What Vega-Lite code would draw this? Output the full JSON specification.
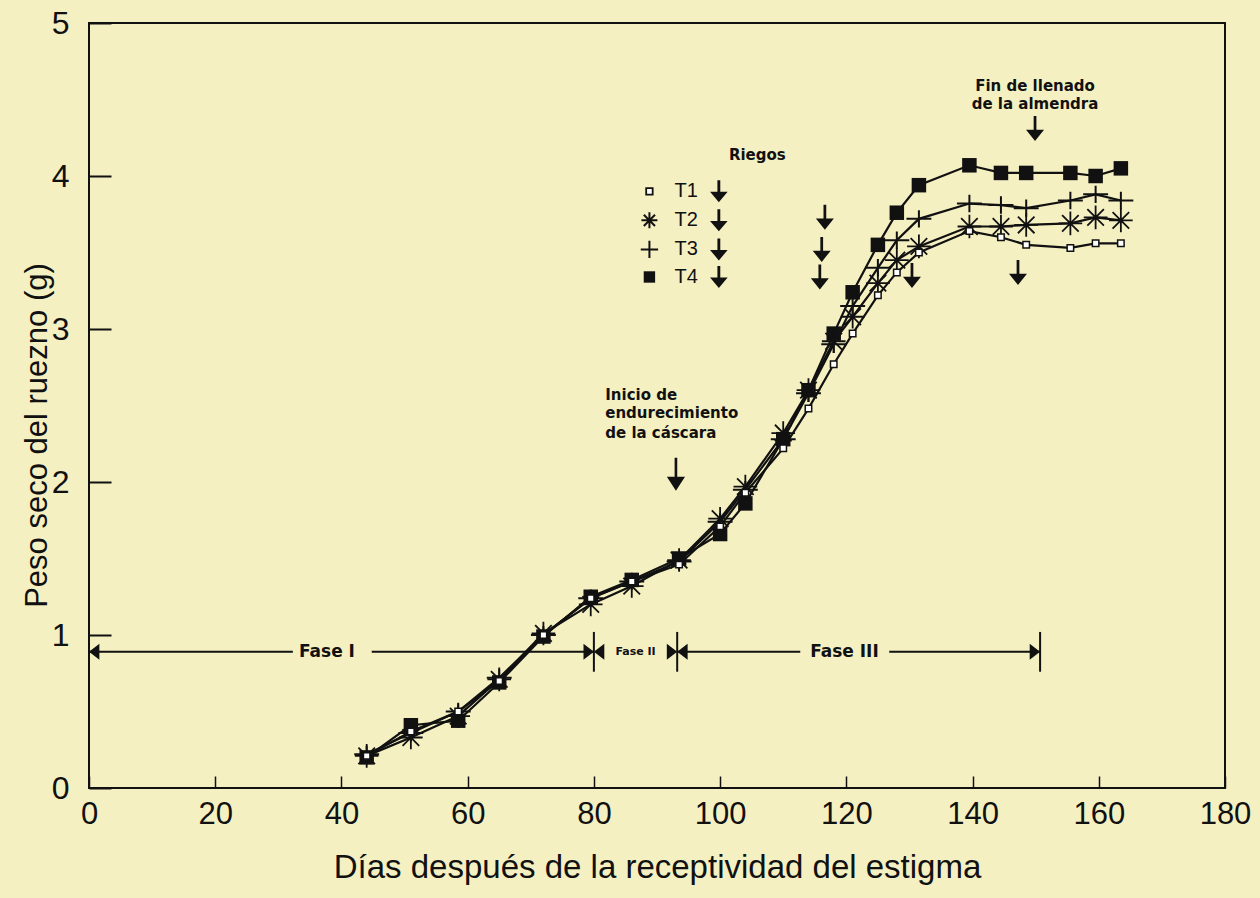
{
  "$schema": "https://vega.github.io/schema/vega-lite/v6.json",
  "width": 1136,
  "height": 765,
  "autosize": {"type": "none"},
  "padding": {"left": 89, "top": 23, "right": 35, "bottom": 110},
  "background": "#f5f0c2",
  "config": {
    "view": {"stroke": "#111111", "strokeWidth": 2},
    "axis": {"grid": false, "domain": false, "labelFont": "Liberation Sans", "titleFont": "Liberation Sans", "labelColor": "#111111", "titleColor": "#111111", "tickColor": "#111111", "titleFontWeight": "normal", "labelFlush": false, "labelOverlap": false}
  },
  "datasets": {
    "peso": [
      {"dia": 44, "trat": "T1", "peso": 0.21}, {"dia": 51, "trat": "T1", "peso": 0.37}, {"dia": 58.5, "trat": "T1", "peso": 0.50}, {"dia": 65, "trat": "T1", "peso": 0.70}, {"dia": 72, "trat": "T1", "peso": 1.00}, {"dia": 79.5, "trat": "T1", "peso": 1.24}, {"dia": 86, "trat": "T1", "peso": 1.35}, {"dia": 93.5, "trat": "T1", "peso": 1.46}, {"dia": 100, "trat": "T1", "peso": 1.71}, {"dia": 104, "trat": "T1", "peso": 1.93}, {"dia": 110, "trat": "T1", "peso": 2.22}, {"dia": 114, "trat": "T1", "peso": 2.48}, {"dia": 118, "trat": "T1", "peso": 2.77}, {"dia": 121, "trat": "T1", "peso": 2.97}, {"dia": 125, "trat": "T1", "peso": 3.22}, {"dia": 128, "trat": "T1", "peso": 3.37}, {"dia": 131.5, "trat": "T1", "peso": 3.50}, {"dia": 139.5, "trat": "T1", "peso": 3.64}, {"dia": 144.5, "trat": "T1", "peso": 3.60}, {"dia": 148.5, "trat": "T1", "peso": 3.55}, {"dia": 155.5, "trat": "T1", "peso": 3.53}, {"dia": 159.5, "trat": "T1", "peso": 3.56}, {"dia": 163.5, "trat": "T1", "peso": 3.56},
      {"dia": 44, "trat": "T2", "peso": 0.21}, {"dia": 51, "trat": "T2", "peso": 0.33}, {"dia": 58.5, "trat": "T2", "peso": 0.47}, {"dia": 65, "trat": "T2", "peso": 0.71}, {"dia": 72, "trat": "T2", "peso": 1.01}, {"dia": 79.5, "trat": "T2", "peso": 1.20}, {"dia": 86, "trat": "T2", "peso": 1.32}, {"dia": 93.5, "trat": "T2", "peso": 1.49}, {"dia": 100, "trat": "T2", "peso": 1.76}, {"dia": 104, "trat": "T2", "peso": 1.97}, {"dia": 110, "trat": "T2", "peso": 2.32}, {"dia": 114, "trat": "T2", "peso": 2.60}, {"dia": 118, "trat": "T2", "peso": 2.92}, {"dia": 121, "trat": "T2", "peso": 3.08}, {"dia": 125, "trat": "T2", "peso": 3.30}, {"dia": 128, "trat": "T2", "peso": 3.45}, {"dia": 131.5, "trat": "T2", "peso": 3.54}, {"dia": 139.5, "trat": "T2", "peso": 3.67}, {"dia": 144.5, "trat": "T2", "peso": 3.67}, {"dia": 148.5, "trat": "T2", "peso": 3.68}, {"dia": 155.5, "trat": "T2", "peso": 3.69}, {"dia": 159.5, "trat": "T2", "peso": 3.73}, {"dia": 163.5, "trat": "T2", "peso": 3.71},
      {"dia": 44, "trat": "T3", "peso": 0.22}, {"dia": 51, "trat": "T3", "peso": 0.36}, {"dia": 58.5, "trat": "T3", "peso": 0.50}, {"dia": 65, "trat": "T3", "peso": 0.72}, {"dia": 72, "trat": "T3", "peso": 1.00}, {"dia": 79.5, "trat": "T3", "peso": 1.24}, {"dia": 86, "trat": "T3", "peso": 1.35}, {"dia": 93.5, "trat": "T3", "peso": 1.48}, {"dia": 100, "trat": "T3", "peso": 1.74}, {"dia": 104, "trat": "T3", "peso": 1.95}, {"dia": 110, "trat": "T3", "peso": 2.28}, {"dia": 114, "trat": "T3", "peso": 2.58}, {"dia": 118, "trat": "T3", "peso": 2.90}, {"dia": 121, "trat": "T3", "peso": 3.15}, {"dia": 125, "trat": "T3", "peso": 3.40}, {"dia": 128, "trat": "T3", "peso": 3.58}, {"dia": 131.5, "trat": "T3", "peso": 3.72}, {"dia": 139.5, "trat": "T3", "peso": 3.82}, {"dia": 144.5, "trat": "T3", "peso": 3.81}, {"dia": 148.5, "trat": "T3", "peso": 3.79}, {"dia": 155.5, "trat": "T3", "peso": 3.84}, {"dia": 159.5, "trat": "T3", "peso": 3.88}, {"dia": 163.5, "trat": "T3", "peso": 3.84},
      {"dia": 44, "trat": "T4", "peso": 0.20}, {"dia": 51, "trat": "T4", "peso": 0.41}, {"dia": 58.5, "trat": "T4", "peso": 0.44}, {"dia": 65, "trat": "T4", "peso": 0.69}, {"dia": 72, "trat": "T4", "peso": 0.99}, {"dia": 79.5, "trat": "T4", "peso": 1.25}, {"dia": 86, "trat": "T4", "peso": 1.36}, {"dia": 93.5, "trat": "T4", "peso": 1.50}, {"dia": 100, "trat": "T4", "peso": 1.66}, {"dia": 104, "trat": "T4", "peso": 1.86}, {"dia": 110, "trat": "T4", "peso": 2.28}, {"dia": 114, "trat": "T4", "peso": 2.60}, {"dia": 118, "trat": "T4", "peso": 2.97}, {"dia": 121, "trat": "T4", "peso": 3.24}, {"dia": 125, "trat": "T4", "peso": 3.55}, {"dia": 128, "trat": "T4", "peso": 3.76}, {"dia": 131.5, "trat": "T4", "peso": 3.94}, {"dia": 139.5, "trat": "T4", "peso": 4.07}, {"dia": 144.5, "trat": "T4", "peso": 4.02}, {"dia": 148.5, "trat": "T4", "peso": 4.02}, {"dia": 155.5, "trat": "T4", "peso": 4.02}, {"dia": 159.5, "trat": "T4", "peso": 4.00}, {"dia": 163.5, "trat": "T4", "peso": 4.05}
    ],
    "fase_lineas": [
      {"dia": 0, "dia2": 32.3, "peso": 0.89},
      {"dia": 44.8, "dia2": 80, "peso": 0.89},
      {"dia": 93.2, "dia2": 112.7, "peso": 0.89},
      {"dia": 126.8, "dia2": 150.7, "peso": 0.89}
    ],
    "fase_barras": [
      {"dia": 80, "peso": 0.76, "peso2": 1.02},
      {"dia": 93.2, "peso": 0.76, "peso2": 1.02},
      {"dia": 150.7, "peso": 0.76, "peso2": 1.02}
    ],
    "puntas_der": [
      {"dia": 80, "peso": 0.89}, {"dia": 93.2, "peso": 0.89}, {"dia": 150.7, "peso": 0.89}
    ],
    "puntas_izq": [
      {"dia": 0, "peso": 0.89}, {"dia": 80, "peso": 0.89}, {"dia": 93.2, "peso": 0.89}
    ],
    "fase_textos": [
      {"dia": 37.7, "peso": 0.89, "texto": "Fase I"},
      {"dia": 119.7, "peso": 0.89, "texto": "Fase III"}
    ],
    "fase2_texto": [
      {"dia": 86.6, "peso": 0.89, "texto": "Fase II"}
    ],
    "leyenda": [
      {"dia": 88.8, "peso": 3.90, "trat": "T1"},
      {"dia": 88.8, "peso": 3.71, "trat": "T2"},
      {"dia": 88.8, "peso": 3.52, "trat": "T3"},
      {"dia": 88.8, "peso": 3.34, "trat": "T4"}
    ],
    "flechas_leyenda": [
      {"dia": 99.8, "peso": 3.90}, {"dia": 99.8, "peso": 3.71}, {"dia": 99.8, "peso": 3.52}, {"dia": 99.8, "peso": 3.34}
    ],
    "flechas_riego": [
      {"dia": 116.6, "peso": 3.73}, {"dia": 116.1, "peso": 3.52}, {"dia": 115.8, "peso": 3.34}, {"dia": 130.4, "peso": 3.35}, {"dia": 147.2, "peso": 3.37}, {"dia": 149.9, "peso": 4.31}
    ],
    "flecha_inicio": [
      {"dia": 93.0, "peso": 2.05}
    ],
    "textos_centro": [
      {"dia": 105.9, "peso": 4.14, "texto": "Riegos"},
      {"dia": 149.9, "peso": 4.59, "texto": "Fin de llenado"},
      {"dia": 149.9, "peso": 4.47, "texto": "de la almendra"}
    ],
    "textos_izq": [
      {"dia": 81.8, "peso": 2.57, "texto": "Inicio de"},
      {"dia": 81.8, "peso": 2.45, "texto": "endurecimiento"},
      {"dia": 81.8, "peso": 2.32, "texto": "de la cáscara"}
    ]
  },
  "encoding": {
    "x": {
      "field": "dia", "type": "quantitative",
      "scale": {"domain": [0, 180], "nice": false, "zero": false},
      "axis": {"values": [0, 20, 40, 60, 80, 100, 120, 140, 160, 180], "tickSize": -12, "tickWidth": 1.5, "labelFontSize": 31, "labelPadding": 23, "title": "Días después de la receptividad del estigma", "titleFontSize": 33, "titleY": 89, "titleBaseline": "alphabetic"}
    },
    "y": {
      "field": "peso", "type": "quantitative",
      "scale": {"domain": [0, 5], "nice": false, "zero": false},
      "axis": {"values": [0, 1, 2, 3, 4, 5], "tickSize": -22, "tickWidth": 2, "labelFontSize": 32, "labelPadding": 42, "title": "Peso seco del ruezno (g)", "titleFontSize": 31, "titleX": -36, "titleY": 412, "titleAlign": "center", "titleBaseline": "bottom", "titleAngle": -90}
    }
  },
  "layer": [
    {"data": {"name": "peso"}, "mark": {"type": "line", "color": "#111111", "strokeWidth": 2.2}, "encoding": {"detail": {"field": "trat"}}},
    {"data": {"name": "peso"}, "transform": [{"filter": "datum.trat === 'T4'"}], "mark": {"type": "point", "shape": "square", "filled": true, "color": "#111111", "size": 210, "opacity": 1}},
    {"data": {"name": "peso"}, "transform": [{"filter": "datum.trat === 'T2'"}], "mark": {"type": "point", "shape": "M-1,0L1,0M0,-1L0,1M-0.7,-0.7L0.7,0.7M-0.7,0.7L0.7,-0.7", "filled": false, "color": "#111111", "strokeWidth": 1.8, "size": 560, "opacity": 1}},
    {"data": {"name": "peso"}, "transform": [{"filter": "datum.trat === 'T3'"}], "mark": {"type": "point", "shape": "M-1,0L1,0M0,-0.7L0,0.7", "filled": false, "color": "#111111", "strokeWidth": 2, "size": 620, "opacity": 1}},
    {"data": {"name": "peso"}, "transform": [{"filter": "datum.trat === 'T1'"}], "mark": {"type": "point", "shape": "square", "filled": true, "fill": "#ffffff", "stroke": "#111111", "strokeWidth": 1.5, "size": 42, "opacity": 1}},
    {"data": {"name": "fase_lineas"}, "mark": {"type": "rule", "color": "#111111", "strokeWidth": 2}, "encoding": {"x2": {"field": "dia2"}}},
    {"data": {"name": "fase_barras"}, "mark": {"type": "rule", "color": "#111111", "strokeWidth": 2}, "encoding": {"y2": {"field": "peso2"}}},
    {"data": {"name": "puntas_der"}, "mark": {"type": "point", "shape": "M-1.3,-1L0,0L-1.3,1Z", "filled": true, "color": "#111111", "size": 256, "opacity": 1}},
    {"data": {"name": "puntas_izq"}, "mark": {"type": "point", "shape": "M1.3,-1L0,0L1.3,1Z", "filled": true, "color": "#111111", "size": 256, "opacity": 1}},
    {"data": {"name": "fase_textos"}, "mark": {"type": "text", "font": "DejaVu Sans", "fontWeight": "bold", "fontSize": 17, "color": "#111111", "align": "center", "baseline": "middle"}, "encoding": {"text": {"field": "texto"}}},
    {"data": {"name": "fase2_texto"}, "mark": {"type": "text", "font": "DejaVu Sans", "fontWeight": "bold", "fontSize": 11, "color": "#111111", "align": "center", "baseline": "middle"}, "encoding": {"text": {"field": "texto"}}},
    {"data": {"name": "leyenda"}, "transform": [{"filter": "datum.trat === 'T1'"}], "mark": {"type": "point", "shape": "square", "filled": true, "fill": "#ffffff", "stroke": "#111111", "strokeWidth": 1.8, "size": 42, "opacity": 1}},
    {"data": {"name": "leyenda"}, "transform": [{"filter": "datum.trat === 'T2'"}], "mark": {"type": "point", "shape": "M-1,0L1,0M0,-1L0,1M-0.7,-0.7L0.7,0.7M-0.7,0.7L0.7,-0.7", "filled": false, "color": "#111111", "strokeWidth": 2, "size": 256, "opacity": 1}},
    {"data": {"name": "leyenda"}, "transform": [{"filter": "datum.trat === 'T3'"}], "mark": {"type": "point", "shape": "M-1,0L1,0M0,-1L0,1", "filled": false, "color": "#111111", "strokeWidth": 2, "size": 300, "opacity": 1}},
    {"data": {"name": "leyenda"}, "transform": [{"filter": "datum.trat === 'T4'"}], "mark": {"type": "point", "shape": "square", "filled": true, "color": "#111111", "size": 130, "opacity": 1}},
    {"data": {"name": "leyenda"}, "mark": {"type": "text", "font": "Liberation Sans", "fontSize": 20, "color": "#111111", "align": "left", "baseline": "middle", "dx": 25}, "encoding": {"text": {"field": "trat"}}},
    {"data": {"name": "flechas_leyenda"}, "mark": {"type": "point", "shape": "M-0.13,-1L0.13,-1L0.13,0.05L0.8,0.05L0,1L-0.8,0.05L-0.13,0.05Z", "filled": true, "color": "#111111", "size": 484, "opacity": 1}},
    {"data": {"name": "flechas_riego"}, "mark": {"type": "point", "shape": "M-0.11,-1L0.11,-1L0.11,0.1L0.72,0.1L0,1L-0.72,0.1L-0.11,0.1Z", "filled": true, "color": "#111111", "size": 625, "opacity": 1}},
    {"data": {"name": "flecha_inicio"}, "mark": {"type": "point", "shape": "M-0.08,-1L0.08,-1L0.08,0.15L0.55,0.15L0,1L-0.55,0.15L-0.08,0.15Z", "filled": true, "color": "#111111", "size": 1089, "opacity": 1}},
    {"data": {"name": "textos_centro"}, "mark": {"type": "text", "font": "DejaVu Sans", "fontWeight": "bold", "fontSize": 15, "color": "#111111", "align": "center", "baseline": "middle"}, "encoding": {"text": {"field": "texto"}}},
    {"data": {"name": "textos_izq"}, "mark": {"type": "text", "font": "DejaVu Sans", "fontWeight": "bold", "fontSize": 15, "color": "#111111", "align": "left", "baseline": "middle"}, "encoding": {"text": {"field": "texto"}}}
  ]
}
